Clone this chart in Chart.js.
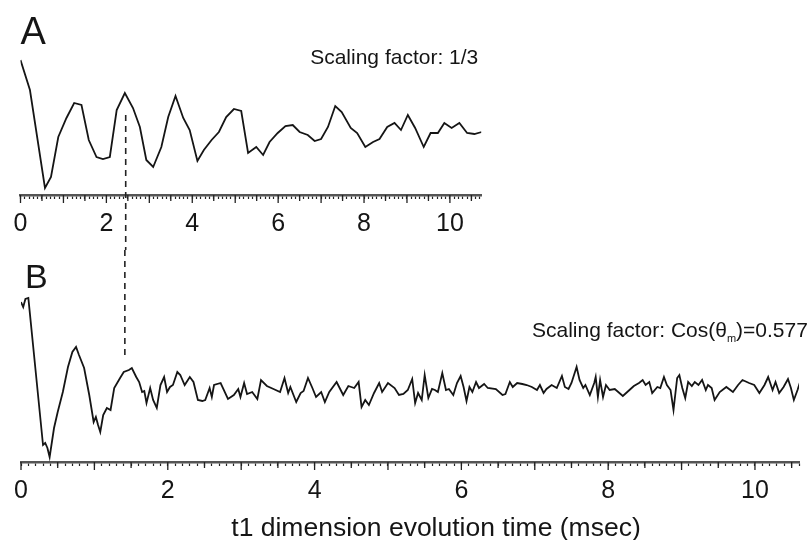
<!DOCTYPE html>
<html><head><meta charset="utf-8">
<script src="https://cdn.jsdelivr.net/npm/chart.js@4/dist/chart.umd.min.js"></script>
<style>
html,body{margin:0;padding:0;background:#fff;}
#wrap{position:relative;width:809px;height:540px;overflow:hidden;background:#fff;}
canvas{position:absolute;left:0;}
#cA{top:0;} #cB{top:250px;}
</style></head><body>
<div id="wrap"><canvas id="cA" width="490" height="250"></canvas><canvas id="cB" width="809" height="290"></canvas></div>
<script>
// ---- Data ----
const timeA = [0, 0.22, 0.57, 0.71, 0.88, 1.07, 1.25, 1.42, 1.59, 1.77, 1.92, 2.08, 2.24, 2.43, 2.62, 2.78, 2.93, 3.09, 3.28, 3.44, 3.61, 3.79, 3.94, 4.12, 4.27, 4.45, 4.62, 4.79, 4.97, 5.14, 5.30, 5.49, 5.65, 5.80, 5.99, 6.17, 6.34, 6.50, 6.69, 6.85, 7.00, 7.16, 7.33, 7.48, 7.69, 7.84, 8.03, 8.21, 8.36, 8.54, 8.71, 8.86, 9.02, 9.19, 9.39, 9.55, 9.72, 9.87, 10.04, 10.22, 10.40, 10.57, 10.74];
const signalA = [135, 105, 7, 18, 58, 77, 92, 90, 55, 38, 36, 38, 85, 102, 87, 68, 35, 28, 48, 78, 99, 77, 65, 34, 45, 55, 63, 78, 86, 84, 42, 48, 40, 53, 62, 69, 70, 63, 60, 54, 56, 68, 89, 83, 67, 62, 48, 53, 56, 68, 72, 65, 80, 67, 48, 62, 62, 72, 67, 72, 62, 61, 63];

const timeB = [0.00, 0.03, 0.06, 0.10, 0.30, 0.33, 0.36, 0.39, 0.45, 0.50, 0.57, 0.64, 0.70, 0.75, 0.79, 0.86, 0.93, 0.99, 1.02, 1.05, 1.08, 1.12, 1.17, 1.22, 1.27, 1.35, 1.40, 1.47, 1.51, 1.57, 1.61, 1.65, 1.68, 1.71, 1.76, 1.80, 1.85, 1.90, 1.95, 1.99, 2.03, 2.07, 2.13, 2.17, 2.23, 2.30, 2.35, 2.41, 2.47, 2.51, 2.57, 2.60, 2.63, 2.72, 2.82, 2.90, 2.96, 2.99, 3.04, 3.08, 3.15, 3.22, 3.27, 3.35, 3.44, 3.53, 3.59, 3.64, 3.67, 3.75, 3.81, 3.85, 3.91, 3.97, 4.02, 4.09, 4.14, 4.20, 4.30, 4.39, 4.46, 4.54, 4.60, 4.64, 4.69, 4.74, 4.81, 4.88, 4.92, 5.00, 5.09, 5.15, 5.21, 5.27, 5.33, 5.37, 5.41, 5.46, 5.50, 5.55, 5.60, 5.64, 5.68, 5.74, 5.79, 5.83, 5.89, 5.94, 5.99, 6.03, 6.07, 6.11, 6.15, 6.20, 6.24, 6.31, 6.36, 6.47, 6.56, 6.60, 6.66, 6.70, 6.76, 6.83, 6.89, 6.96, 7.03, 7.07, 7.12, 7.16, 7.23, 7.30, 7.37, 7.41, 7.46, 7.50, 7.57, 7.61, 7.66, 7.69, 7.75, 7.81, 7.83, 7.86, 7.89, 7.93, 7.97, 8.02, 8.09, 8.20, 8.29, 8.35, 8.42, 8.47, 8.51, 8.56, 8.60, 8.67, 8.71, 8.76, 8.80, 8.85, 8.89, 8.94, 8.97, 9.01, 9.05, 9.09, 9.14, 9.18, 9.23, 9.28, 9.33, 9.36, 9.41, 9.45, 9.52, 9.61, 9.70, 9.77, 9.83, 9.92, 9.99, 10.06, 10.13, 10.18, 10.24, 10.28, 10.33, 10.39, 10.45, 10.49, 10.53, 10.58, 10.61];
const signalB = [160, 155, 163, 164, 17, 19, 14, 5, 34, 50, 70, 95, 110, 115, 107, 94, 67, 40, 45, 37, 30, 47, 54, 52, 74, 84, 90, 92, 94, 85, 80, 70, 71, 59, 74, 62, 54, 77, 85, 70, 75, 77, 90, 87, 77, 85, 80, 62, 61, 62, 74, 65, 77, 79, 63, 67, 73, 65, 79, 68, 70, 63, 82, 76, 73, 70, 84, 69, 75, 60, 69, 71, 84, 74, 65, 70, 60, 70, 80, 67, 76, 74, 80, 55, 62, 57, 69, 79, 70, 79, 74, 67, 68, 72, 83, 59, 69, 62, 87, 64, 73, 72, 70, 89, 72, 73, 67, 79, 86, 75, 61, 75, 70, 80, 74, 78, 74, 73, 67, 68, 80, 75, 79, 78, 77, 75, 72, 77, 69, 73, 77, 74, 86, 75, 73, 79, 95, 82, 74, 77, 67, 79, 85, 65, 82, 65, 77, 72, 73, 66, 72, 76, 79, 82, 77, 80, 69, 75, 74, 85, 77, 72, 52, 84, 87, 74, 64, 80, 76, 80, 77, 82, 72, 77, 74, 62, 70, 75, 70, 77, 82, 79, 77, 69, 77, 85, 72, 80, 69, 75, 83, 74, 62, 72, 79];

const tickLabelsA = [0, 2, 4, 6, 8, 10];
const tickLabelsB = [0, 2, 4, 6, 8, 10];
const minorTickStep = 0.1;
const panelLabels = ['A', 'B'];
const scalingTextA = [['Scaling factor: 1/3', 'main']];
const scalingTextB = [['Scaling factor: Cos(\u03B8', 'main'], ['m', 'sub'], [')=0.577', 'main']];
const axisTitleText = 't1 dimension evolution time (msec)';
// vertical dashed marker (A peak time and the same time scaled by cos(theta_m))
const markerA = {time: 2.45, signal: 80};
const markerB = {time: 1.415, signal: 102};

const FONT = '"Liberation Sans", Arial, Helvetica, sans-serif';
const INK = '#151515';

const decor = {
  id: 'decor',
  afterDraw(chart, args, o) {
    const {ctx, chartArea: ca} = chart;
    const xs = chart.scales.x, ys = chart.scales.y;
    ctx.save();
    // longer ticks at integers and half-integers
    ctx.strokeStyle = '#222'; ctx.lineWidth = 1.3;
    xs.ticks.forEach(t => {
      const v = t.value, r = Math.round(v);
      let len = 0;
      if (Math.abs(v - r) < 1e-6) len = 8;
      else if (Math.abs(v * 2 - Math.round(v * 2)) < 1e-6) len = 6;
      if (len) {
        const px = xs.getPixelForValue(v);
        ctx.beginPath(); ctx.moveTo(px, xs.top); ctx.lineTo(px, xs.top + len); ctx.stroke();
      }
    });
    // dashed marker
    ctx.setLineDash([6, 5]); ctx.lineWidth = 1.6; ctx.strokeStyle = '#222';
    const mx = xs.getPixelForValue(o.marker.time), my = ys.getPixelForValue(o.marker.signal);
    ctx.beginPath();
    if (o.markerDown) { ctx.moveTo(mx, my); ctx.lineTo(mx, chart.height); }
    else { ctx.moveTo(mx, 0); ctx.lineTo(mx, my); }
    ctx.stroke(); ctx.setLineDash([]);
    // panel letter
    ctx.fillStyle = INK; ctx.textBaseline = 'alphabetic'; ctx.textAlign = 'left';
    ctx.font = o.labelFont;
    ctx.fillText(o.label, ca.left + o.labelDx, o.labelY);
    // scaling factor text
    const fonts = {main: '21px ' + FONT, sub: '11px ' + FONT};
    const drops = {main: 0, sub: 5};
    let total = 0;
    o.scaling.forEach(([s, k]) => { ctx.font = fonts[k]; total += ctx.measureText(s).width; });
    let x = o.scalingAlign === 'right' ? ca.right + o.scalingDx - total : ca.left + o.scalingDx;
    o.scaling.forEach(([s, k]) => {
      ctx.font = fonts[k];
      ctx.fillText(s, x, o.scalingY + drops[k]);
      x += ctx.measureText(s).width;
    });
    // x-axis title
    if (o.axisTitle) {
      ctx.font = '26.5px ' + FONT; ctx.textAlign = 'center';
      ctx.fillText(o.axisTitle, (ca.left + ca.right) / 2 + o.axisTitleDx, o.axisTitleY);
    }
    ctx.restore();
  }
};

function makeXScale(max, labels, axisHeight) {
  return {
    type: 'linear', min: 0, max: max,
    border: {display: true, color: '#555', width: 2.5},
    grid: {display: true, drawOnChartArea: false, drawTicks: true, tickLength: 4, tickColor: '#222', tickWidth: 1.2},
    afterBuildTicks: (scale) => {
      const n = Math.floor(scale.max / minorTickStep + 1e-6);
      const ticks = [];
      for (let i = 0; i <= n; i++) ticks.push({value: Math.round(i * minorTickStep * 10) / 10});
      scale.ticks = ticks;
    },
    afterFit: (scale) => { scale.height = axisHeight; },
    ticks: {
      autoSkip: false, maxRotation: 0, minRotation: 0, padding: 10,
      color: INK, font: {family: FONT, size: 25},
      callback: (v) => {
        const r = Math.round(v);
        return (Math.abs(v - r) < 1e-6 && labels.includes(r)) ? String(r) : '';
      }
    }
  };
}

function makeChart(id, times, values, opts) {
  return new Chart(document.getElementById(id), {
    type: 'line',
    data: {datasets: [{
      data: times.map((t, i) => ({x: t, y: values[i]})),
      borderColor: INK, borderWidth: 1.8, pointRadius: 0, tension: 0, fill: false
    }]},
    options: {
      responsive: false, animation: false, events: [],
      layout: {padding: opts.padding},
      plugins: {legend: {display: false}, tooltip: {enabled: false}, title: {display: false},
        decor: opts.decor},
      scales: {
        x: makeXScale(opts.xMax, opts.tickLabels, opts.axisHeight),
        y: {type: 'linear', display: false, min: 0, max: opts.yMax}
      }
    },
    plugins: [decor]
  });
}

makeChart('cA', timeA, signalA, {
  padding: {left: 20.5, right: 8, top: 45, bottom: 0},
  axisHeight: 55,
  xMax: 10.73, yMax: 150, tickLabels: tickLabelsA,
  decor: {marker: markerA, markerDown: true, label: panelLabels[0], labelFont: '38px ' + FONT, labelDx: 0, labelY: 44,
    scaling: scalingTextA, scalingAlign: 'right', scalingDx: -3, scalingY: 64, axisTitle: null}
});

makeChart('cB', timeB, signalB, {
  padding: {left: 21, right: 0, top: 40, bottom: 0},
  axisHeight: 78,
  xMax: 10.6, yMax: 172, tickLabels: tickLabelsB,
  decor: {marker: markerB, markerDown: false, label: panelLabels[1], labelFont: '34px ' + FONT, labelDx: 4, labelY: 38,
    scaling: scalingTextB, scalingAlign: 'left', scalingDx: 511, scalingY: 87,
    axisTitle: axisTitleText, axisTitleDx: 26, axisTitleY: 286}
});
</script>
</body></html>
